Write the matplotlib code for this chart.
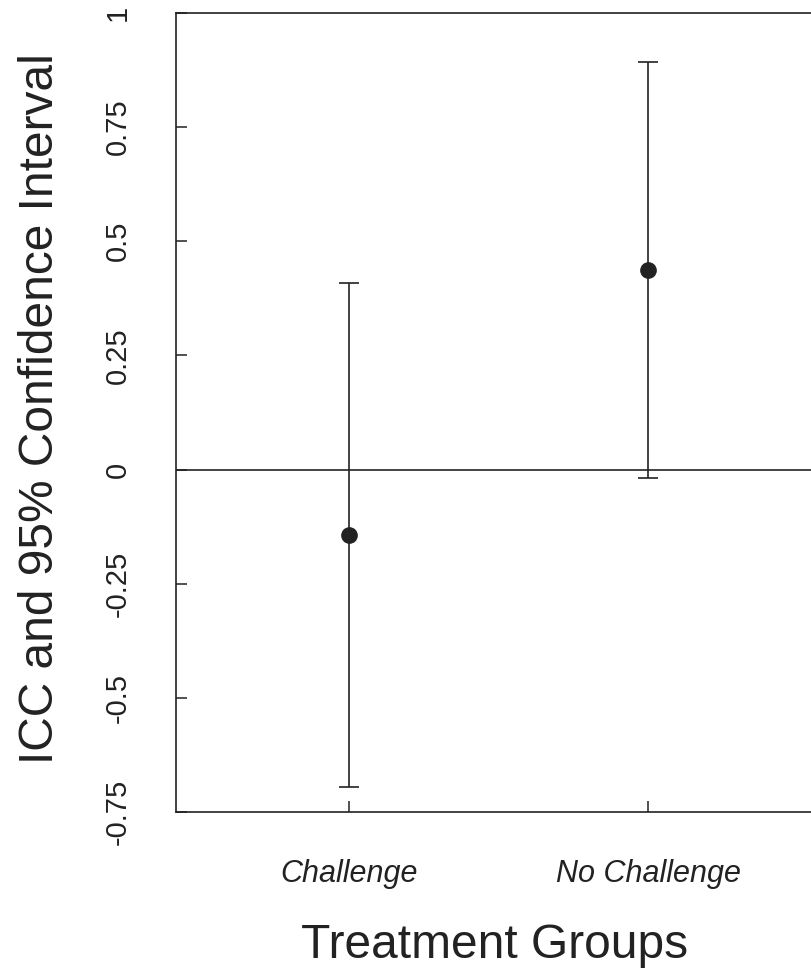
import matplotlib
matplotlib.use("Agg")
import matplotlib.pyplot as plt

# ICC estimates with 95% confidence intervals
groups = ["Challenge", "No Challenge"]
icc = [-0.144, 0.438]
ci_low = [-0.696, -0.019]
ci_high = [0.408, 0.893]

y_ticks = [-0.75, -0.5, -0.25, 0, 0.25, 0.5, 0.75, 1]
y_tick_labels = ["-0.75", "-0.5", "-0.25", "0", "0.25", "0.5", "0.75", "1"]

plt.rcParams['font.family'] = ['Liberation Sans', 'DejaVu Sans']
ink = '#222222'

fig = plt.figure(figsize=(8.12, 9.68), dpi=100)
# right edge of the box falls just outside the picture, as in the original
ax = fig.add_axes([0.2167, 0.1612, 0.7956, 0.8254])

x = [1, 2]
err = [[m - lo for m, lo in zip(icc, ci_low)],
       [hi - m for m, hi in zip(icc, ci_high)]]
ax.errorbar(x, icc, yerr=err, fmt='o', color=ink, ecolor=ink,
            elinewidth=1.2, capsize=7.2, capthick=1.2, markersize=11)
ax.axhline(0, color=ink, linewidth=1.2)

ax.set_xlim(0.4214, 2.58)
ax.set_ylim(-0.75, 1)

ax.set_xticks(x)
ax.set_xticklabels(groups, fontsize=22, style='italic')
ax.set_yticks(y_ticks)
ax.set_yticklabels(y_tick_labels, fontsize=21, rotation=90, va='center')
ax.tick_params(axis='both', direction='in', length=8, width=1.1, color=ink, labelcolor=ink)
ax.tick_params(axis='x', pad=34)
ax.tick_params(axis='y', pad=32)

for side in ['left', 'bottom', 'top', 'right']:
    ax.spines[side].set_linewidth(1.2)
    ax.spines[side].set_color(ink)

fig.text(53 / 812, 0.5775, "ICC and 95% Confidence Interval", fontsize=34.5,
         rotation=90, rotation_mode='anchor', ha='center', va='baseline', color=ink)
fig.text(495 / 812, 10 / 968, "Treatment Groups", fontsize=34.5,
         ha='center', va='baseline', color=ink)

fig.savefig("out.png", dpi=100)
